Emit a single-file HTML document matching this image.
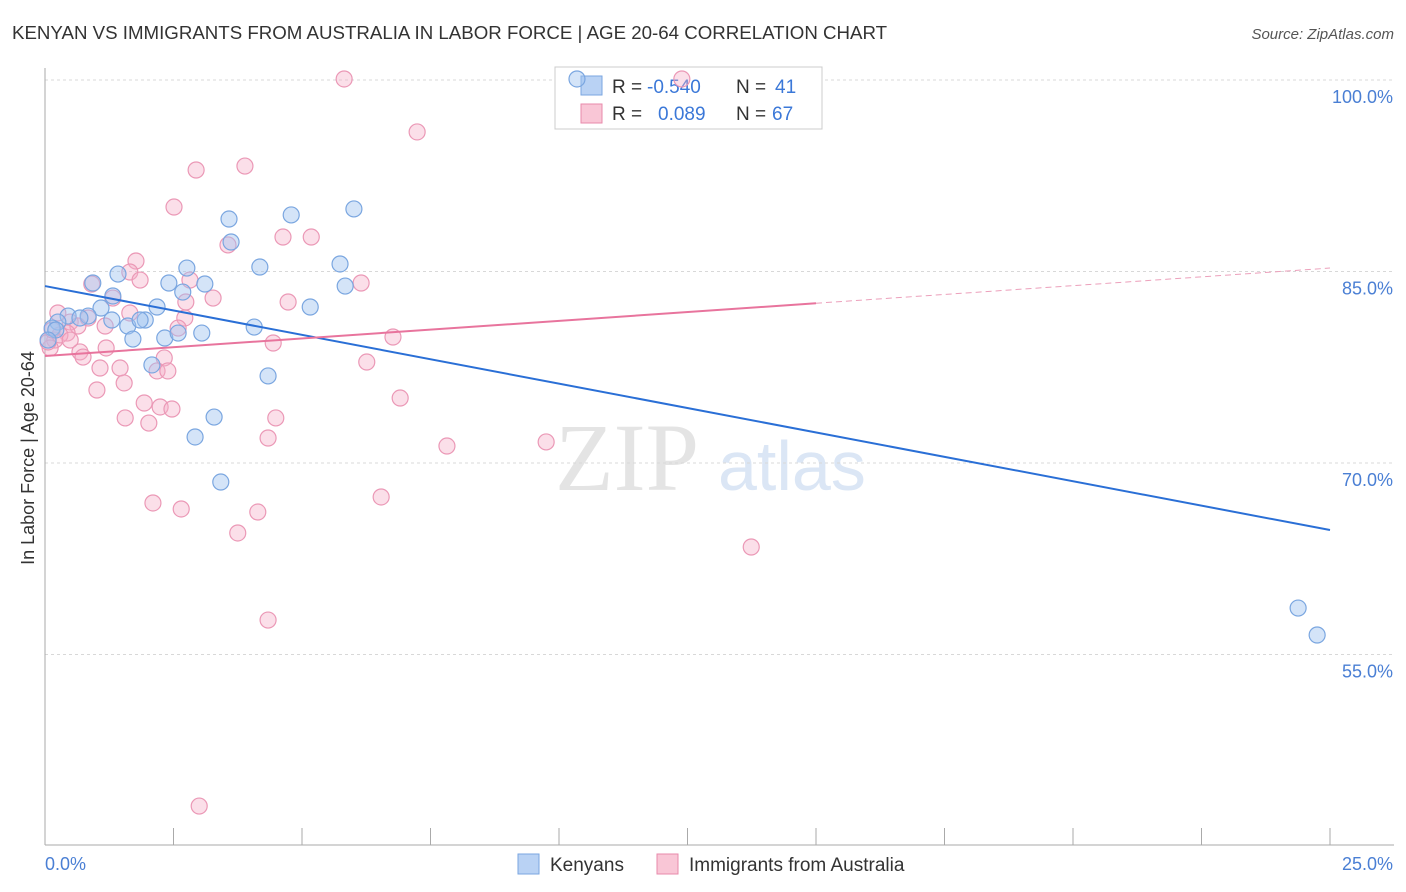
<!DOCTYPE html>
<html><head><meta charset="utf-8"><style>
body{margin:0;background:#fff;font-family:"Liberation Sans",sans-serif;}
svg{display:block}
</style></head><body>
<svg id="chart" width="1406" height="892" xmlns="http://www.w3.org/2000/svg">
<text x="12" y="39" font-size="18.7" fill="#333">KENYAN VS IMMIGRANTS FROM AUSTRALIA IN LABOR FORCE | AGE 20-64 CORRELATION CHART</text>
<text x="1394" y="39" font-size="15" fill="#555" font-style="italic" text-anchor="end">Source: ZipAtlas.com</text>
<text x="555" y="490" font-size="96" fill="#e4e4e4" font-family="Liberation Serif,serif">ZIP</text>
<text x="718" y="490" font-size="70" fill="#dbe6f5">atlas</text>
<text transform="translate(34,458) rotate(-90)" font-size="18" fill="#333" text-anchor="middle">In Labor Force | Age 20-64</text>
<g id="grid"></g><g id="axes"></g>
<g>
<rect x="555" y="67" width="267" height="62" fill="#fff" stroke="#ccc"/>
<rect x="581" y="76" width="21" height="19" fill="#b9d2f4" stroke="#7aa6e0"/>
<text x="612" y="93" font-size="19" fill="#333">R =</text>
<text x="647" y="93" font-size="19" fill="#3b78d8">-0.540</text>
<text x="736" y="93" font-size="19" fill="#333">N =</text>
<text x="775" y="93" font-size="19" fill="#3b78d8">41</text>
<rect x="581" y="104" width="21" height="19" fill="#f9c6d6" stroke="#e88aab"/>
<text x="612" y="120" font-size="19" fill="#333">R =</text>
<text x="658" y="120" font-size="19" fill="#3b78d8">0.089</text>
<text x="736" y="120" font-size="19" fill="#333">N =</text>
<text x="772" y="120" font-size="19" fill="#3b78d8">67</text>
</g>
<g id="marks"></g><g id="lines"></g>
<g>
<rect x="518" y="854" width="21" height="20" fill="#b9d2f4" stroke="#7aa6e0"/>
<text x="550" y="871" font-size="19" fill="#333">Kenyans</text>
<rect x="657" y="854" width="21" height="20" fill="#f9c6d6" stroke="#e88aab"/>
<text x="689" y="871" font-size="19" fill="#333">Immigrants from Australia</text>
</g>
</svg>
<script>
const blueX=[10.35,0.93,1.42,2.76,3.58,4.79,6.01,3.62,4.18,5.74,5.84,2.41,2.68,3.11,1.32,1.09,2.18,0.84,0.45,0.25,0.14,1.61,1.95,1.85,1.30,1.71,2.33,2.59,3.05,4.07,5.16,2.08,4.34,3.29,2.92,3.42,24.38,24.75,0.21,0.06,0.68];
const blueY=[100.08,84.10,84.80,85.27,89.11,89.43,89.90,87.31,85.35,85.59,83.86,84.10,83.39,84.02,83.08,82.14,82.22,81.51,81.51,81.04,80.57,80.73,81.20,81.20,81.20,79.71,79.79,80.18,80.18,80.65,82.22,77.68,76.82,73.60,72.04,68.51,58.64,56.53,80.42,79.63,81.36];
const pinkX=[5.82,12.39,7.24,2.94,3.89,2.51,4.63,5.18,3.56,1.77,1.65,1.85,0.91,2.82,3.27,2.74,4.73,6.15,1.32,1.65,0.25,0.84,0.49,0.64,2.72,2.59,1.17,0.43,0.19,0.10,1.19,0.68,0.74,2.32,4.44,6.77,6.26,2.18,2.39,1.07,1.46,1.54,1.01,1.93,2.24,2.47,6.91,1.56,2.02,4.49,4.34,7.82,9.75,6.54,2.10,2.65,4.14,3.75,13.74,4.34,3.00,0.06,0.29,0.14,0.49];
const pinkY=[100.08,100.08,95.93,92.95,93.26,90.05,87.70,87.70,87.08,85.82,84.96,84.33,84.02,84.33,82.92,82.61,82.61,84.10,82.92,81.75,81.75,81.36,81.04,80.73,81.36,80.57,80.73,80.18,79.63,79.01,79.01,78.70,78.30,78.23,79.40,79.87,77.91,77.21,77.21,77.44,77.44,76.27,75.72,74.70,74.39,74.23,75.09,73.53,73.13,73.53,71.96,71.33,71.65,67.34,66.87,66.40,66.16,64.52,63.42,57.70,43.13,79.48,80.03,80.42,79.63];
const yTicks=[100,85,70,55];
const yTickLabels=["100.0%","85.0%","70.0%","55.0%"];
const xTickVals=[0,2.5,5,7.5,10,12.5,15,17.5,20,22.5,25];
const blueTrend=[83.86,64.75];
const pinkTrend=[78.38,85.27];
const pinkSolidEnd=15;
const NS="http://www.w3.org/2000/svg";
const sx=v=>45+v*51.4;
const sy=v=>80+(100-v)*12.767;
function mk(t,a,p){const e=document.createElementNS(NS,t);for(const k in a)e.setAttribute(k,a[k]);document.getElementById(p).appendChild(e);return e;}
yTicks.forEach((v,i)=>{
 const l=mk('line',{x1:45,x2:1394,y1:sy(v),y2:sy(v),stroke:'#d8d8d8','stroke-dasharray':'3,3'},'grid');
 
 
 const t=mk('text',{x:1393,y:sy(v)+23,'font-size':18,fill:'#4a7fd4','text-anchor':'end'},'axes');
 t.textContent=yTickLabels[i];
 
 
});
const ax=mk('line',{x1:45,x2:45,y1:68,y2:845,stroke:'#aaa'},'axes');


const bx=mk('line',{x1:45,x2:1394,y1:845,y2:845,stroke:'#aaa'},'axes');


xTickVals.forEach(v=>{const t=mk('line',{x1:sx(v),x2:sx(v),y1:828,y2:845,stroke:'#aaa'},'axes');
 
 });
const x0=mk('text',{x:45,y:870,'font-size':18,fill:'#4a7fd4'},'axes');x0.textContent='0.0%';


const x1=mk('text',{x:1393,y:870,'font-size':18,fill:'#4a7fd4','text-anchor':'end'},'axes');x1.textContent='25.0%';


pinkX.forEach((v,i)=>{const c=mk('circle',{cx:sx(v),cy:sy(pinkY[i]),r:8,fill:'rgba(245,175,200,0.4)',stroke:'#eb98b6','stroke-width':1.2},'marks');
 
 });
blueX.forEach((v,i)=>{const c=mk('circle',{cx:sx(v),cy:sy(blueY[i]),r:8,fill:'rgba(160,195,240,0.45)',stroke:'#7aa6e0','stroke-width':1.2},'marks');
 
 });
const bl=mk('line',{x1:sx(0),y1:sy(blueTrend[0]),x2:sx(25),y2:sy(blueTrend[1]),stroke:'#2a6fd6','stroke-width':2},'lines');


const pm=pinkTrend[0]+(pinkTrend[1]-pinkTrend[0])*pinkSolidEnd/25;
const pl=mk('line',{x1:sx(0),y1:sy(pinkTrend[0]),x2:sx(pinkSolidEnd),y2:sy(pm),stroke:'#e8749d','stroke-width':2},'lines');


const pd=mk('line',{x1:sx(pinkSolidEnd),y1:sy(pm),x2:sx(25),y2:sy(pinkTrend[1]),stroke:'#eca0bb','stroke-width':1,'stroke-dasharray':'6,4'},'lines');


</script>
</body></html>
